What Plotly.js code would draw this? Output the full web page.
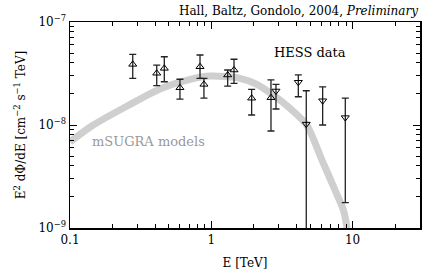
<!DOCTYPE html>
<html>
<head>
<meta charset="utf-8">
<script src="https://cdn.plot.ly/plotly-3.0.1.min.js"></script>
<style>html,body{margin:0;padding:0;background:#fff;}#chart{width:423px;height:274px;}</style>
</head>
<body>
<div id="chart"></div>
<script>
// HESS data points (energy in TeV, E^2 dPhi/dE in cm^-2 s^-1 TeV)
const energy = [0.278, 0.411, 0.465, 0.600, 0.832, 0.887, 1.306, 1.448, 1.93, 2.645, 2.87, 4.13, 4.70, 6.14, 8.88];
const flux   = [3.88e-8, 3.18e-8, 3.55e-8, 2.30e-8, 3.68e-8, 2.48e-8, 3.06e-8, 3.42e-8, 1.82e-8, 1.84e-8, 2.14e-8, 2.60e-8, 1.02e-8, 1.72e-8, 1.18e-8];
const fluxHi = [4.86e-8, 3.82e-8, 4.60e-8, 2.78e-8, 4.78e-8, 2.84e-8, 3.42e-8, 4.35e-8, 2.22e-8, 2.74e-8, 2.48e-8, 3.06e-8, 2.15e-8, 2.35e-8, 1.82e-8];
const fluxLo = [2.84e-8, 2.41e-8, 2.63e-8, 1.78e-8, 2.84e-8, 1.82e-8, 2.39e-8, 2.54e-8, 1.25e-8, 8.74e-9, 1.43e-8, 1.88e-8, 0, 1.00e-8, 1.76e-9];
const markerDir = ['up','up','up','up','up','up','up','up','up','up','down','down','down','down','down'];

// mSUGRA model curve
const modelE = [0.1, 0.146, 0.252, 0.434, 0.746, 0.98, 1.596, 2.10, 2.75, 3.61, 4.73, 6.07, 7.50, 8.60, 9.13, 9.45];
const modelF = [6.84e-9, 1.0e-8, 1.52e-8, 2.24e-8, 2.82e-8, 2.99e-8, 2.84e-8, 2.48e-8, 1.95e-8, 1.45e-8, 1.0e-8, 4.57e-9, 2.34e-9, 1.50e-9, 1.0e-9, 6.0e-10];

// Axis ticks
const xTickVals = [0.1, 1, 10];
const xTickText = ['0.1', '1', '10'];
const yTickVals = [1e-9, 1e-8, 1e-7];
const yTickText = ['10<sup>−9</sup>', '10<sup>−8</sup>', '10<sup>−7</sup>'];
const xMinor = [0.2,0.3,0.4,0.5,0.6,0.7,0.8,0.9,2,3,4,5,6,7,8,9,20,30];
const yMinor = [2e-9,3e-9,4e-9,5e-9,6e-9,7e-9,8e-9,9e-9,2e-8,3e-8,4e-8,5e-8,6e-8,7e-8,8e-8,9e-8];

const FONT = 'DejaVu Serif, Liberation Serif, serif';

function pointsFor(dir) {
  const idx = energy.map((_, i) => i).filter(i => markerDir[i] === dir);
  return {
    type: 'scatter', mode: 'markers',
    x: idx.map(i => energy[i]),
    y: idx.map(i => flux[i]),
    marker: {symbol: dir === 'up' ? 'triangle-up-open' : 'triangle-down-open', size: 7, color: '#000', line: {width: 1, color: '#000'}},
    error_y: {
      type: 'data', symmetric: false,
      array: idx.map(i => fluxHi[i] - flux[i]),
      arrayminus: idx.map(i => flux[i] - fluxLo[i]),
      color: '#222', thickness: 1.3, width: 3.5
    },
    showlegend: false, hoverinfo: 'skip', cliponaxis: true
  };
}

const traces = [
  {type: 'scatter', mode: 'lines', x: modelE, y: modelF,
   line: {color: '#cfcfcf', width: 7, shape: 'spline', smoothing: 0.8}, showlegend: false, hoverinfo: 'skip'},
  pointsFor('up'),
  pointsFor('down')
];

const axisCommon = {
  type: 'log', showgrid: false, zeroline: false,
  showline: true, linecolor: '#000', linewidth: 1.5, mirror: 'ticks',
  ticks: 'inside', ticklen: 7, tickwidth: 1, tickcolor: '#000',
  tickfont: {family: FONT, size: 12, color: '#000'}
};

const layout = {
  width: 423, height: 274,
  margin: {l: 70, r: 3, t: 22, b: 46},
  paper_bgcolor: '#fff', plot_bgcolor: '#fff',
  font: {family: FONT, color: '#000'},
  xaxis: Object.assign({}, axisCommon, {
    range: [-1, Math.log10(30)],
    tickmode: 'array', tickvals: xTickVals, ticktext: xTickText,
    minor: {tickmode: 'array', tickvals: xMinor, ticks: 'inside', ticklen: 4, tickcolor: '#000', showgrid: false},
    title: {text: 'E [TeV]', font: {family: FONT, size: 12, color: '#000'}, standoff: 12}
  }),
  yaxis: Object.assign({}, axisCommon, {
    range: [-9, -7],
    tickmode: 'array', tickvals: yTickVals, ticktext: yTickText,
    minor: {tickmode: 'array', tickvals: yMinor, ticks: 'inside', ticklen: 4, tickcolor: '#000', showgrid: false},
    title: {text: 'E<sup>2</sup> dΦ/dE [cm<sup>−2</sup> s<sup>−1</sup> TeV]', font: {family: FONT, size: 12, color: '#000'}, standoff: 10}
  }),
  annotations: [
    {xref: 'paper', yref: 'paper', x: 1, y: 1, xanchor: 'right', yanchor: 'bottom', yshift: 2, showarrow: false,
     text: 'Hall, Baltz, Gondolo, 2004, <i>Preliminary</i>', font: {family: FONT, size: 12, color: '#000'}},
    {xref: 'paper', yref: 'paper', x: 0.686, y: 0.854, xanchor: 'center', yanchor: 'middle', showarrow: false,
     text: 'HESS data', font: {family: FONT, size: 13, color: '#000'}},
    {xref: 'paper', yref: 'paper', x: 0.223, y: 0.422, xanchor: 'center', yanchor: 'middle', showarrow: false,
     text: 'mSUGRA models', font: {family: FONT, size: 13, color: '#999'}}
  ]
};

Plotly.newPlot('chart', traces, layout, {staticPlot: true, displayModeBar: false});
</script>
</body>
</html>
